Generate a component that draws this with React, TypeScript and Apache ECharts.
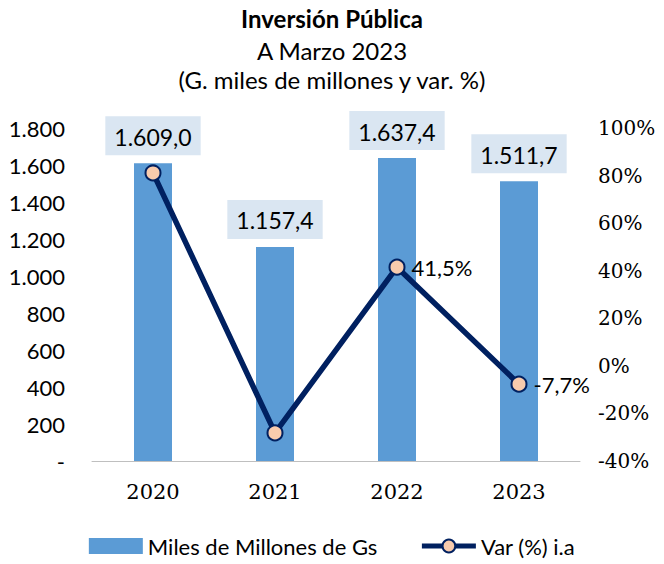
import React, { useEffect, useRef } from "react";
import * as echarts from "echarts";

const categories = ["2020", "2021", "2022", "2023"];
const barValues = [1609.0, 1157.4, 1637.4, 1511.7];
const varValues = [81.1, -28.2, 41.5, -7.7];
const showVarLabel = [false, false, true, true];
const barName = "Miles de Millones de Gs";
const lineName = "Var (%) i.a";

const SANS = "Lato, 'Open Sans', sans-serif";
const SERIF = "'DejaVu Serif', 'Liberation Serif', serif";

function fmtThousands(v: number, dec: number): string {
  const s = v.toFixed(dec);
  const [i, d] = s.split(".");
  const ii = i.replace(/\B(?=(\d{3})+(?!\d))/g, ".");
  return d ? ii + "," + d : ii;
}

export default function App() {
  const ref = useRef<HTMLDivElement>(null);
  useEffect(() => {
    if (!ref.current) return;
    const chart = echarts.init(ref.current, null, { renderer: "svg" });
    chart.setOption({
      animation: false,
      backgroundColor: "#ffffff",
      title: [
        {
          text: "Inversión Pública",
          left: "center",
          top: 1,
          textStyle: { fontFamily: SANS, fontSize: 24, fontWeight: "bold", color: "#000" },
        },
        {
          text: "A Marzo 2023",
          left: "center",
          top: 33,
          textStyle: { fontFamily: SANS, fontSize: 24, fontWeight: "normal", color: "#000" },
        },
        {
          text: "(G. miles de millones y var. %)",
          left: "center",
          top: 62,
          textStyle: { fontFamily: SANS, fontSize: 24, fontWeight: "normal", color: "#000" },
        },
      ],
      grid: { left: 92, right: 84, top: 128, bottom: 103 },
      legend: {
        bottom: 2,
        left: "center",
        itemGap: 42,
        itemWidth: 54,
        itemHeight: 16,
        textStyle: { fontFamily: SANS, fontSize: 22, color: "#000" },
        data: [
          { name: barName, icon: "rect" },
          { name: lineName, lineStyle: { width: 5 } },
        ],
      },
      xAxis: {
        type: "category",
        data: categories,
        axisLine: { lineStyle: { color: "#bfbfbf", width: 1 } },
        axisTick: { show: false },
        axisLabel: { fontFamily: SERIF, fontSize: 21, color: "#000", margin: 20 },
      },
      yAxis: [
        {
          type: "value",
          min: 0,
          max: 1800,
          interval: 200,
          splitLine: { show: false },
          axisLine: { show: false },
          axisTick: { show: false },
          axisLabel: {
            fontFamily: SANS,
            fontSize: 22,
            color: "#000",
            margin: 27,
            formatter: (v: number) => (v === 0 ? "-" : fmtThousands(v, 0)),
          },
        },
        {
          type: "value",
          min: -40,
          max: 100,
          interval: 20,
          splitLine: { show: false },
          axisLine: { show: false },
          axisTick: { show: false },
          axisLabel: {
            fontFamily: SERIF,
            fontSize: 20,
            color: "#000",
            margin: 18,
            formatter: (v: number) => v + "%",
          },
        },
      ],
      series: [
        {
          name: barName,
          type: "bar",
          data: barValues,
          barWidth: 38,
          itemStyle: { color: "#5B9BD5" },
          label: {
            show: true,
            position: "top",
            distance: 8,
            fontFamily: SANS,
            fontSize: 23,
            color: "#000",
            backgroundColor: "#DAE6F2",
            padding: [9, 9, 7, 9],
            formatter: (p: any) => fmtThousands(p.value, 1),
          },
        },
        {
          name: lineName,
          type: "line",
          yAxisIndex: 1,
          data: varValues.map((v, i) => ({
            value: v,
            label: { show: showVarLabel[i] },
          })),
          symbol: "circle",
          symbolSize: 15,
          lineStyle: { color: "#002060", width: 5.5 },
          itemStyle: { color: "#F8CBAD", borderColor: "#002060", borderWidth: 2 },
          label: {
            position: "right",
            distance: 6,
            fontFamily: SANS,
            fontSize: 22,
            color: "#000",
            formatter: (p: any) => String(p.value).replace(".", ",") + "%",
          },
          z: 5,
        },
      ],
    });
    return () => chart.dispose();
  }, []);
  return (
    <div
      ref={ref}
      style={{ position: "fixed", left: 0, top: 0, width: 664, height: 564 }}
    />
  );
}
